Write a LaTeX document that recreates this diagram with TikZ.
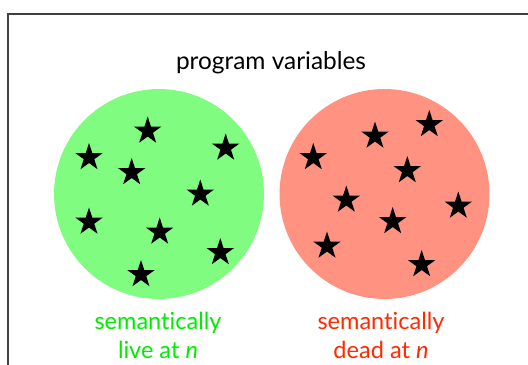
\documentclass[tikz,border=0pt]{standalone}
\usepackage{fontspec}
\setmainfont{Lato}[Ligatures=NoCommon]
\usetikzlibrary{shapes.geometric}

\definecolor{verde}{RGB}{128,252,128}
\definecolor{salmon}{RGB}{255,146,128}
\definecolor{verdetxt}{RGB}{0,236,0}
\definecolor{rojotxt}{RGB}{255,42,0}

\tikzset{
  estrella/.style={star, star points=5, star point ratio=2.618, fill=black, inner sep=0pt, minimum size=0.58cm},
  conjunto/.style={circle, inner sep=0pt, minimum size=4.2cm},
  rotulo/.style={align=center, font=\fontsize{13.4}{16.5}\selectfont},
}

\begin{document}
\begin{tikzpicture}[x=0.02cm, y=-0.02cm]
    \useasboundingbox (0,0) rectangle (528,365);
    \clip (0,0) rectangle (528,365);

    % Marco
    \draw[black!75, line width=0.8pt] (8,14) rectangle (545,390);

    % Titulo
    \node[rotulo, font=\fontsize{13.9}{16.5}\selectfont] (titulo) at (271,63) {program variables};

    % Conjuntos
    \node[conjunto, fill=verde] (live) at (159,194) {};
    \node[conjunto, fill=salmon] (dead) at (384.5,194) {};

    % Estrellas
    \foreach \x/\y [count=\i] in {147.7/131, 89/157.5, 225.7/148, 131.7/172.5, 200.3/194,
                                  89/222, 159.7/232, 220.3/252.5, 141/274.5}
        \node[estrella] (live-\i) at (\x,\y) {};
    \foreach \x/\y [count=\i] in {375/136, 429.3/124.5, 313.3/157.5, 407.3/170.5, 346.3/200,
                                  458.3/206, 392.7/221.5, 327/246, 421.7/264.5}
        \node[estrella] (dead-\i) at (\x,\y) {};

    % Rotulos
    \node[rotulo, text=verdetxt] (lbl-live) at (158,335) {semantically\\live at \textit{n}};
    \node[rotulo, text=rojotxt] (lbl-dead) at (381,335) {semantically\\dead at \textit{n}};
\end{tikzpicture}
\end{document}
